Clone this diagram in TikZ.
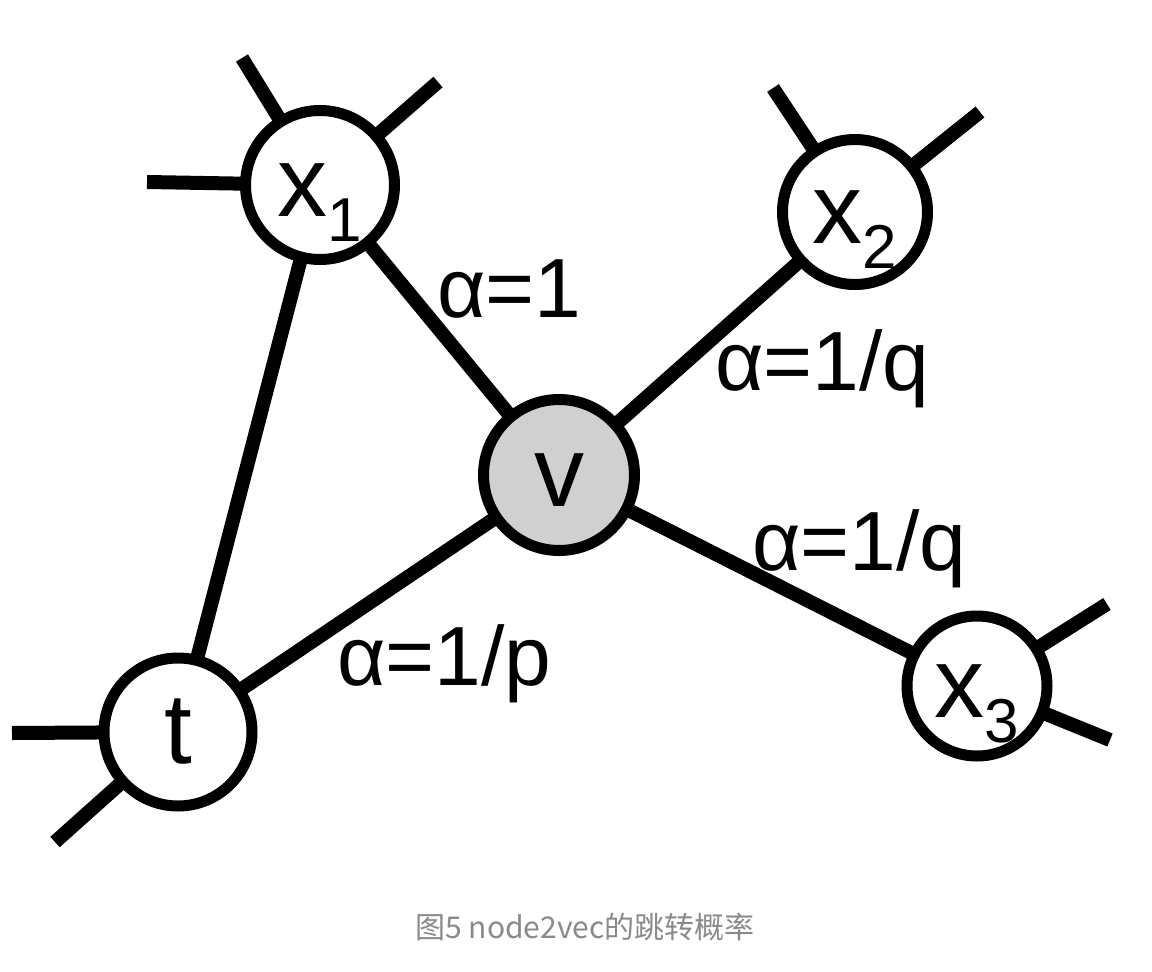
\documentclass[tikz,border=0pt]{standalone}
\usepackage{fontspec}
\setmainfont{Liberation Sans}
\newfontfamily\cjk{Noto Sans CJK SC}
\pgfdeclarelayer{bglayer}
\pgfdeclarelayer{edgelayer}
\pgfsetlayers{bglayer,edgelayer,main}
\definecolor{vgray}{RGB}{208,208,208}
\definecolor{capgray}{RGB}{138,138,138}
\newcommand\nodesub[1]{\raisebox{-25pt}{\fontsize{62}{62}\selectfont #1}}
\begin{document}
\begin{tikzpicture}[x=1pt,y=-1pt,
  vert/.style={circle,draw=black,line width=11pt,fill=white,inner sep=0pt,outer sep=0pt,
    text height=62pt,text depth=0pt,font=\fontsize{100}{100}\selectfont},
  link/.style={line width=14pt,black},
  lab/.style={anchor=base west,inner sep=0pt,font=\fontsize{84}{84}\selectfont}]
\begin{pgfonlayer}{bglayer}
\useasboundingbox[fill=white] (0,0) rectangle (1152,972);
\end{pgfonlayer}
\node[vert,minimum size=149pt] (x1) at (320,185) {x\nodesub{1}};
\node[vert,minimum size=145pt] (x2) at (855,212) {x\nodesub{2}};
\node[vert,minimum size=151pt,fill=vgray] (v) at (559,475) {v};
\node[vert,minimum size=148pt] (t) at (178,732) {t};
\node[vert,minimum size=140pt] (x3) at (977,686) {x\nodesub{3}};
\coordinate (a1) at (242,58);
\coordinate (a2) at (438,82);
\coordinate (a3) at (147,182);
\coordinate (b1) at (773,88);
\coordinate (b2) at (980,112);
\coordinate (c1) at (12,733);
\coordinate (c2) at (55,842);
\coordinate (d1) at (1107,604);
\coordinate (d2) at (1110,740);
\begin{pgfonlayer}{edgelayer}
\draw[link] (x1.center) -- (v.center);
\draw[link] (x2.center) -- (v.center);
\draw[link] (x3.center) -- (v.center);
\draw[link] (t.center) -- (v.center);
\draw[link] (t.center) -- (x1.center);
\draw[link] (x1.center) -- (a1);
\draw[link] (x1.center) -- (a2);
\draw[link] (x1.center) -- (a3);
\draw[link] (x2.center) -- (b1);
\draw[link] (x2.center) -- (b2);
\draw[link] (t.center) -- (c1);
\draw[link] (t.center) -- (c2);
\draw[link] (x3.center) -- (d1);
\draw[link] (x3.center) -- (d2);
\end{pgfonlayer}
\node[lab] (l1) at (437,317) {α=1};
\node[lab] (l2) at (715,390) {α=1/q};
\node[lab] (l3) at (752,570) {α=1/q};
\node[lab] (l4) at (337,685) {α=1/p};
\node[font=\cjk\fontsize{30}{30}\selectfont,text=capgray,anchor=base,inner sep=0pt] (cap) at (585,938) {图5 node2vec的跳转概率};
\end{tikzpicture}
\end{document}
